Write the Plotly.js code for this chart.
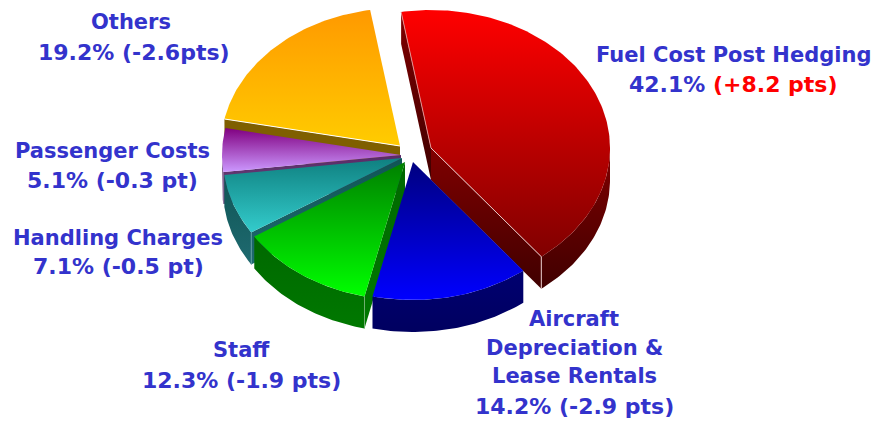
<!DOCTYPE html>
<html><head><meta charset="utf-8">
<script src="https://cdn.plot.ly/plotly-3.0.1.min.js"></script>
<style>html,body{margin:0;padding:0;background:#fff}#c{width:877px;height:422px}</style>
</head><body><div id="c"></div>
<script>
// Data
const categories = ["Fuel Cost Post Hedging","Aircraft Depreciation & Lease Rentals","Staff","Handling Charges","Passenger Costs","Others"];
const shares = [42.1,14.2,12.3,7.1,5.1,19.2];
const changes = ["(+8.2 pts)","(-2.9 pts)","(-1.9 pts)","(-0.5 pt)","(-0.3 pt)","(-2.6pts)"];

// Pie geometry and style (pixel-valued axis)
const startAngle = -9.6, rx = 179, ry = 138, depth = 32;
const apexX = [431,413,405,402,401,400];
const apexY = [148,162,162,158,155,146];
const topA = ["#ff0000","#000080","#008000","#0f8080","#800080","#ff9900"];
const topB = ["#800000","#0000ff","#00ff00","#33cccc","#cc99ff","#ffcc00"];
const wallA = ["#800000","#000070","#006800","#0f5555","#5a2a66","#7f5f00"];
const wallB = ["#400000","#000060","#007800","#1f6a70","#6a4a80","#7f5f00"];
const seamColor = ["#e8c8c8","#2a2a90","#70b070","#5a9aa0","#6a4a80","#ffffff"];

const rad = d => d*Math.PI/180;
const px = (i,t) => apexX[i] + rx*Math.sin(rad(t));
const py = (i,t,dy=0) => apexY[i] - ry*Math.cos(rad(t)) + dy;

function polyTrace(xs,ys,c1,c2){
  const y0 = Math.min(...ys), y1 = Math.max(...ys);
  return {type:"scatter",mode:"lines",x:xs,y:ys,fill:"toself",hoverinfo:"skip",showlegend:false,
    line:{width:0,color:c1},
    fillgradient:{type:"vertical",start:y0,stop:y1,colorscale:[[0,c1],[1,c2]]}};
}
function seam(xs,ys,c){
  return {type:"scatter",mode:"lines",x:xs,y:ys,hoverinfo:"skip",showlegend:false,line:{width:1,color:c}};
}
function arcPts(i,t1,t2,dy){
  const xs=[],ys=[],n=Math.max(2,Math.ceil(Math.abs(t2-t1)));
  for(let k=0;k<=n;k++){const t=t1+(t2-t1)*k/n;xs.push(px(i,t));ys.push(py(i,t,dy));}
  return [xs,ys];
}

// Cumulative angles from the shares
const t1s=[],t2s=[]; let acc=startAngle;
shares.forEach(s=>{t1s.push(acc);acc+=s*3.6;t2s.push(acc);});

const drawOrder=[0,5,4,3,2,1];
const traces=[];
drawOrder.forEach(i=>{
  const a=t1s[i], b=t2s[i];
  [[a,Math.sin(rad(a))<0],[b,Math.sin(rad(b))>0]].forEach(([t,vis])=>{
    if(!vis) return;
    traces.push(polyTrace(
      [apexX[i],px(i,t),px(i,t),apexX[i]],
      [apexY[i],py(i,t),py(i,t,depth),apexY[i]+depth],
      wallA[i],wallB[i]));
  });
  const fa=Math.max(a,90), fb=Math.min(b,270);
  if(fb>fa){
    const [xt,yt]=arcPts(i,fa,fb,0), [xb,yb]=arcPts(i,fb,fa,depth);
    traces.push(polyTrace(xt.concat(xb),yt.concat(yb),wallA[i],wallB[i]));
  }
  const [xa,ya]=arcPts(i,a,b,0);
  traces.push(polyTrace([apexX[i]].concat(xa,[apexX[i]]),[apexY[i]].concat(ya,[apexY[i]]),topA[i],topB[i]));
  if(i===0){
    traces.push(seam([apexX[i],px(i,a)],[apexY[i],py(i,a)],"#e09090"));
    traces.push(seam([apexX[i],px(i,b),px(i,b)],[apexY[i],py(i,b),py(i,b,depth)],seamColor[i]));
  } else if(i===2){
    traces.push(seam([px(i,a),px(i,a)],[py(i,a),py(i,a,depth)],seamColor[i]));
  } else if(i===3){
    traces.push(seam([px(i,a),px(i,a)],[py(i,a),py(i,a,depth)],seamColor[i]));
  } else if(i===5){
    traces.push(seam([apexX[i],px(i,a)],[apexY[i],py(i,a)],seamColor[i]));
  }
});

// Labels: name lines are set slightly smaller than value lines
const nameSize = 21, valueSize = 22;
const labelLines=[
 ["Fuel Cost Post Hedging",733,55,nameSize],
 ["42.1% <span style='color:#ff0000'>"+changes[0]+"</span>",733,84,valueSize],
 ["Aircraft",574,319,nameSize],["Depreciation &",574,348,nameSize],["Lease Rentals",574,376,nameSize],
 ["14.2% "+changes[1],574,406,valueSize],
 ["Staff",241,350,nameSize],["12.3% "+changes[2],241,380,valueSize],
 ["Handling Charges",118,238,nameSize],["7.1% "+changes[3],118,266,valueSize],
 ["Passenger Costs",112,151,nameSize],["5.1% "+changes[4],112,180,valueSize],
 ["Others",131,22,nameSize],["19.2% "+changes[5],134,52,valueSize]
];
const annotations=labelLines.map(([text,x,y,size])=>({
  text,x,y,xref:"x",yref:"y",showarrow:false,xanchor:"center",yanchor:"middle",
  font:{family:"'DejaVu Sans',sans-serif",size,color:"#3333cc",weight:700}
}));

Plotly.newPlot("c",traces,{
  width:877,height:422,margin:{l:0,r:0,t:0,b:0},
  paper_bgcolor:"#fff",plot_bgcolor:"#fff",showlegend:false,
  xaxis:{range:[0,877],visible:false,fixedrange:true},
  yaxis:{range:[422,0],visible:false,fixedrange:true},
  annotations
},{displayModeBar:false,staticPlot:true});
</script></body></html>
